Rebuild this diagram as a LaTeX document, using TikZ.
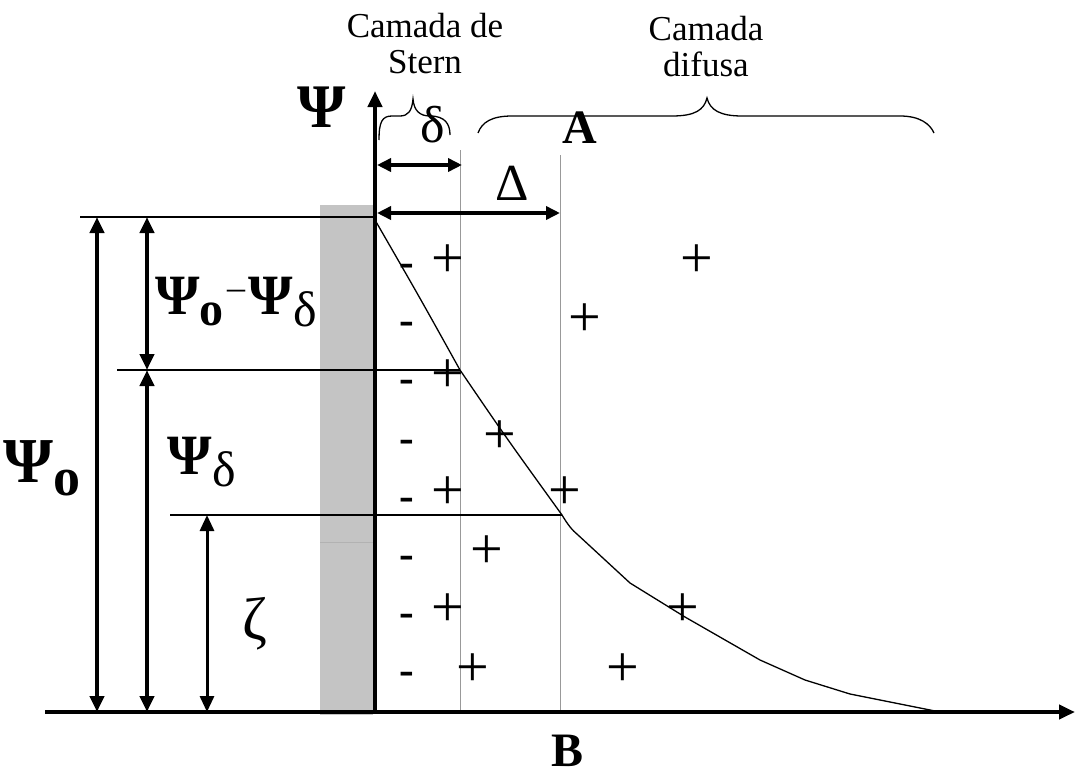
\documentclass[tikz,border=0pt]{standalone}
\usepackage{fontspec}
\setmainfont{Liberation Serif}
\usetikzlibrary{arrows.meta}
\begin{document}
\begin{tikzpicture}[x=1pt,y=-1pt,
  thinline/.style={line width=1.3pt},
  guide/.style={line width=1pt,draw=black!40},
  dimarrow/.style={line width=4pt,{Triangle[width=14pt,length=16pt]}-{Triangle[width=14pt,length=16pt]}},
  hdim/.style={line width=3.5pt,{Triangle[width=13pt,length=14pt]}-{Triangle[width=13pt,length=14pt]}},
  axis/.style={line width=4pt,-{Triangle[width=14pt,length=16pt]}},
  lbl/.style={inner sep=0pt,font=\fontsize{35}{36}\selectfont,align=center},
  minus/.style={inner sep=0pt,font=\fontsize{44}{44}\selectfont\bfseries},
  plus/.style={inner sep=0pt,font=\fontsize{58}{58}\selectfont}]
\useasboundingbox (0,0) rectangle (1075,776);
% wall
\fill[black!23] (320,205) rectangle (373,715);
\draw[line width=0.6pt,black!30] (320,542) -- (373,542);
% coordinates
\coordinate (O) at (375,712);
\coordinate (Ytop) at (375,91);
\coordinate (Xl) at (45,712);
\coordinate (Xr) at (1075,712);
\coordinate (P0) at (375,220);
\coordinate (Pd) at (460,370);
\coordinate (PD) at (562,515);
\coordinate (Pend) at (940,712);
% guide verticals
\coordinate (g1t) at (460,150); \coordinate (g1b) at (460,712);
\coordinate (g2t) at (560,155); \coordinate (g2b) at (560,712);
\draw[guide] (g1t) -- (g1b);
\draw[guide] (g2t) -- (g2b);
% horizontal level lines
\coordinate (h1l) at (80,217);
\coordinate (h1r) at (373,217);
\coordinate (h2l) at (117,370);
\coordinate (h3l) at (170,515);
\draw[thinline] (h1l) -- (h1r);
\draw[thinline] (h2l) -- (Pd);
\draw[thinline] (h3l) -- (PD);
% curve
\draw[thinline] (P0) .. controls (420,298) .. (Pd)
  .. controls (505,436) .. (PD)
  .. controls (568,525) and (572,530) .. (578,535)
  -- (630,583) -- (685,617) -- (760,660) -- (805,680)
  -- (850,694) -- (900,704) -- (Pend);
% axes
\draw[axis] (Xl) -- (Xr);
\draw[axis] (O) -- (Ytop);
% vertical dimension arrows
\coordinate (a1t) at (97,217); \coordinate (a1b) at (97,712);
\coordinate (a2t) at (147,217); \coordinate (a2m) at (147,370); \coordinate (a2b) at (147,712);
\coordinate (a3t) at (207,515); \coordinate (a3b) at (207,712);
\draw[dimarrow] (a1t) -- (a1b);
\draw[dimarrow] (a2t) -- (a2m);
\draw[dimarrow] (a2m) -- (a2b);
\draw[dimarrow,line width=3pt] (a3t) -- (a3b);
% horizontal dimension arrows
\coordinate (d1l) at (377,165); \coordinate (d1r) at (462,165);
\coordinate (d2l) at (377,213); \coordinate (d2r) at (560,213);
\draw[hdim] (d1l) -- (d1r);
\draw[hdim] (d2l) -- (d2r);
% braces
\draw[thinline] (379,140) .. controls (379,122) and (382,116) .. (392,116)
  -- (400,116) .. controls (408,116) and (412,111) .. (413,99)
  .. controls (414,111) and (420,116) .. (430,116)
  .. controls (445,116) and (450,124) .. (450,135);
\draw[thinline] (478,133) .. controls (482,122) and (492,116) .. (512,116)
  -- (672,116) .. controls (695,116) and (704,110) .. (707,98)
  .. controls (710,110) and (720,116) .. (742,116)
  -- (900,116) .. controls (920,116) and (930,124) .. (934,133);
% labels
\node[lbl] (stern) at (425,44) {Camada de\\Stern};
\node[lbl] (difusa) at (706,47) {Camada\\difusa};
\node[inner sep=0pt,font=\fontsize{62}{62}\selectfont\bfseries] (psi) at (322,107) {Ψ};
\node[inner sep=0pt,font=\fontsize{52}{52}\selectfont] (delta) at (433,125) {δ};
\node[inner sep=0pt,font=\fontsize{48}{48}\selectfont\bfseries] (A) at (580,128) {A};
\node[inner sep=0pt,font=\fontsize{52}{52}\selectfont] (Delta) at (512,183) {Δ};
\node[inner sep=0pt,font=\fontsize{48}{48}\selectfont\bfseries] (B) at (567,751) {B};
\node[inner sep=0pt,font=\fontsize{64}{64}\selectfont\bfseries] (psio) at (42,468)
  {Ψ\raisebox{-0.2em}{\fontsize{54}{54}\selectfont o}};
\node[inner sep=0pt,font=\fontsize{57}{57}\selectfont\bfseries] (diff) at (236,302)
  {Ψ\raisebox{-0.2em}{\fontsize{48}{48}\selectfont o}\hspace{0.06em}\raisebox{0.25em}{\fontsize{36}{36}\selectfont\mdseries –}\hspace{0.06em}Ψ\raisebox{-0.22em}{\fontsize{50}{50}\selectfont\mdseries δ}};
\node[inner sep=0pt,font=\fontsize{57}{57}\selectfont\bfseries] (psid) at (202,462)
  {Ψ\raisebox{-0.22em}{\fontsize{50}{50}\selectfont\mdseries δ}};
\node[inner sep=0pt,font=\fontsize{60}{60}\selectfont] (zeta) at (255,624) {ζ};
% charges
\foreach \y [count=\i] in {270,328,386,446,504,562,620,678}
  \node[minus] (m\i) at (407,\y) {-};
\foreach \x/\y [count=\i] in {448/261,697/261,585/320,448/376,500/437,448/493,565/493,487/552,448/610,683/610,473/670,623/670}
  \node[plus] (p\i) at (\x,\y) {+};
\end{tikzpicture}
\end{document}
